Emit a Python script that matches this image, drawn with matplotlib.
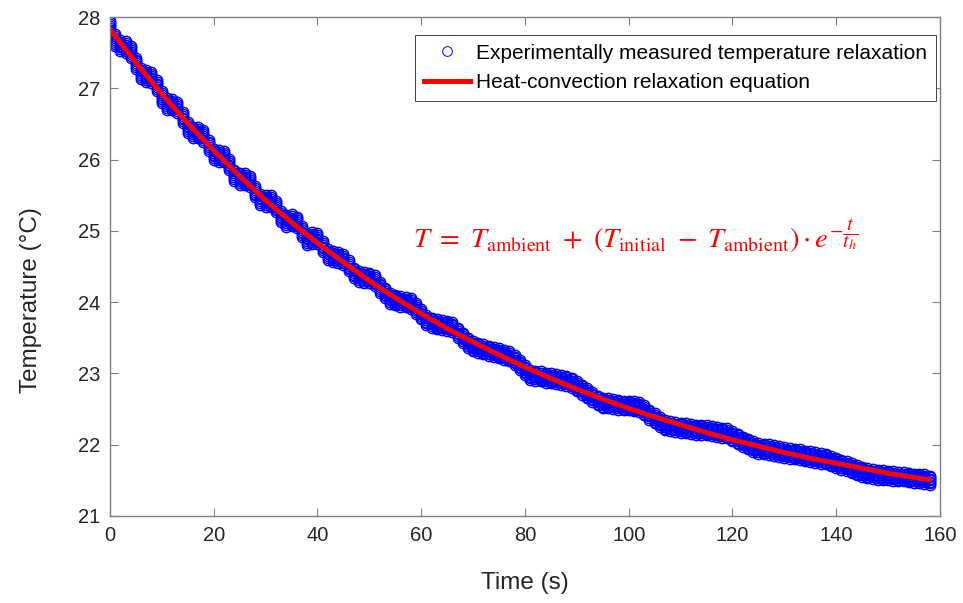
import numpy as np
import matplotlib.pyplot as plt
from matplotlib.lines import Line2D

plt.rcParams['font.family'] = ['Liberation Sans', 'DejaVu Sans']
plt.rcParams['mathtext.fontset'] = 'stix'

time_s = np.arange(0, 159)
temp_measured = [
    27.87, 27.68, 27.60, 27.58, 27.51, 27.35, 27.21, 27.17, 27.15, 27.04,
    26.88, 26.78, 26.77, 26.73, 26.59, 26.45, 26.38, 26.38, 26.33, 26.20,
    26.07, 26.05, 26.04, 25.93, 25.78, 25.73, 25.73, 25.69, 25.55, 25.44,
    25.42, 25.42, 25.34, 25.20, 25.14, 25.15, 25.12, 24.99, 24.88, 24.90,
    24.89, 24.78, 24.67, 24.64, 24.63, 24.60, 24.51, 24.41, 24.36, 24.35,
    24.34, 24.30, 24.21, 24.13, 24.05, 24.03, 24.01, 24.00, 23.98, 23.91,
    23.83, 23.75, 23.71, 23.69, 23.68, 23.67, 23.65, 23.57, 23.50, 23.43,
    23.38, 23.36, 23.34, 23.32, 23.30, 23.28, 23.26, 23.24, 23.19, 23.12,
    23.05, 22.98, 22.97, 22.96, 22.94, 22.93, 22.92, 22.91, 22.90, 22.87,
    22.82, 22.77, 22.72, 22.67, 22.62, 22.58, 22.58, 22.57, 22.56, 22.55,
    22.55, 22.54, 22.53, 22.48, 22.42, 22.37, 22.32, 22.27, 22.26, 22.25,
    22.24, 22.23, 22.22, 22.21, 22.21, 22.20, 22.19, 22.18, 22.17, 22.16,
    22.12, 22.08, 22.04, 22.01, 21.97, 21.95, 21.94, 21.93, 21.92, 21.90,
    21.89, 21.88, 21.87, 21.86, 21.84, 21.83, 21.82, 21.81, 21.80, 21.77,
    21.75, 21.72, 21.70, 21.67, 21.64, 21.62, 21.60, 21.59, 21.58, 21.57,
    21.57, 21.56, 21.55, 21.55, 21.54, 21.53, 21.53, 21.52, 21.50,
]
# scatter of the readings around each second (half width, per 10 s block)
scatter_halfwidth = [0.08, 0.08, 0.08, 0.08, 0.075, 0.075, 0.07, 0.07,
                     0.07, 0.07, 0.07, 0.07, 0.075, 0.075, 0.07, 0.065]

# heat-convection fit curve
fit_time = [0, 5, 10, 15, 20, 25, 30, 35, 40, 45, 50, 55, 60, 65, 70, 75, 80,
            85, 90, 95, 100, 105, 110, 115, 120, 125, 130, 135, 140, 145, 150,
            155, 158]
fit_temp = [27.83, 27.36, 26.92, 26.51, 26.13, 25.77, 25.43, 25.12, 24.83,
            24.56, 24.30, 24.06, 23.84, 23.63, 23.44, 23.26, 23.09, 22.93,
            22.78, 22.64, 22.51, 22.39, 22.28, 22.17, 22.07, 21.98, 21.89,
            21.81, 21.74, 21.67, 21.60, 21.54, 21.51]

fig = plt.figure(figsize=(9.63, 6.03), dpi=100)
ax = fig.add_axes([0.1142, 0.1443, 0.8619, 0.8275])

temp = np.array(temp_measured)
spread = np.repeat(scatter_halfwidth, 10)[:len(temp)]
for k in (-1, -2 / 3, -1 / 3, 0, 1 / 3, 2 / 3, 1):
    ax.plot(time_s, temp + k * spread, 'o', ms=7.5, mfc='none',
            mec='b', mew=1.0)
fit_line, = ax.plot(fit_time, fit_temp, '-', color='r', lw=3.6)
meas = Line2D([], [], marker='o', ls='none', ms=7, mfc='none', mec='b',
              mew=0.7)

ax.text(58.4, 24.76,
        r'$T\ =\ T_{\mathrm{ambient}}\ +\ (T_{\mathrm{initial}}\ -\ T_{\mathrm{ambient}})\cdot e^{-\dfrac{t}{t_h}}$',
        color='r', fontsize=20.5, ha='left', va='baseline')

ax.set_xlim(0, 160)
ax.set_ylim(21, 28)
ax.set_xticks(range(0, 161, 20))
ax.set_yticks(range(21, 29))
ax.set_xlabel('Time (s)', fontsize=17.5, color='#262626', labelpad=20)
ax.set_ylabel('Temperature (°C)', fontsize=17.5, color='#262626')
ax.yaxis.set_label_coords(-0.082, 0.433)
ax.tick_params(direction='in', length=6, width=0.8, colors='#808080',
               labelcolor='#262626', labelsize=14.5, top=True, right=True,
               pad=7)
for s in ax.spines.values():
    s.set_color('#808080')
    s.set_linewidth(1.0)

leg = ax.legend([meas, fit_line],
                ['Experimentally measured temperature relaxation',
                 'Heat-convection relaxation equation'],
                loc='upper right', bbox_to_anchor=(0.995, 0.964),
                borderaxespad=0, fontsize=15, fancybox=False, framealpha=1,
                edgecolor='#262626', handlelength=2.2, handletextpad=0.3,
                labelspacing=0.5, borderpad=0.42, numpoints=1)
leg.get_frame().set_linewidth(0.6)

fig.savefig('out.png', dpi=100)
